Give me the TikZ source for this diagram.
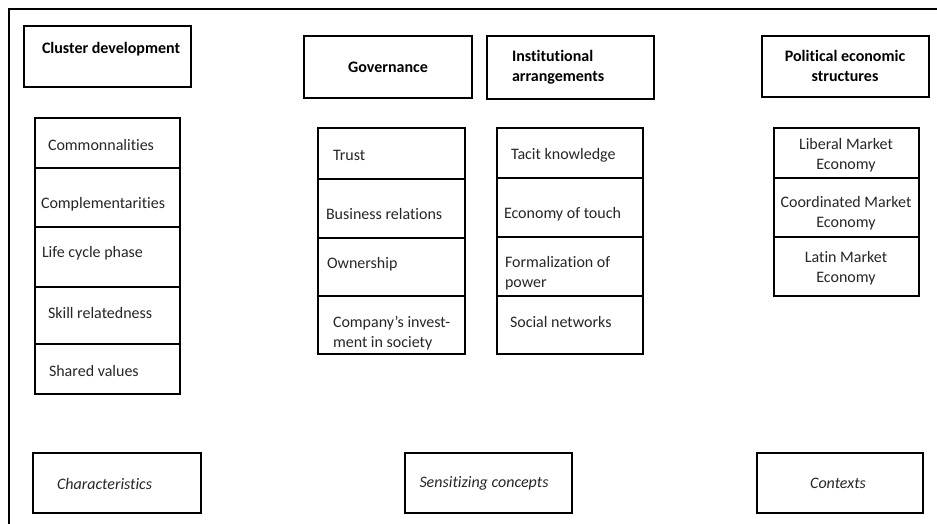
\documentclass[tikz,border=0pt]{standalone}
\usepackage{fontspec}
\setmainfont{Carlito}[Ligatures={NoCommon}]
\begin{document}
\begin{tikzpicture}[x=1pt,y=-1pt,
  every node/.style={inner sep=0pt, outer sep=0pt},
  box/.style={draw, line width=1.6pt, anchor=north west, rectangle},
  txt/.style={font=\fontsize{16}{20}\selectfont, text=black!85, anchor=west},
  head/.style={font=\fontsize{16}{20}\selectfont\bfseries, text=black},
  tag/.style={font=\fontsize{16}{20}\selectfont\itshape, text=black!85}]
\useasboundingbox (0,0) rectangle (937,524);

% outer frame (top and left edges)
\coordinate (frameTL) at (9,9);
\coordinate (frameTR) at (937,9);
\coordinate (frameBL) at (9,524);
\draw[line width=1.1pt] (frameTR) -- (frameTL) -- (frameBL);

% headings
\node[box, minimum width=167, minimum height=61] (hcd) at (24,26) {};
\node[head, anchor=west] (hcdt) at (42,49) {Cluster development};
\node[box, minimum width=168, minimum height=62] (hgov) at (304,36) {};
\node[head] (hgovt) at (388,67) {Governance};
\node[box, minimum width=167, minimum height=63] (hinst) at (487,36) {};
\node[head, anchor=west, align=left] (hinstt) at (512,67) {Institutional\\arrangements};
\node[box, minimum width=167, minimum height=61] (hpol) at (762,36) {};
\node[head, align=center] (hpolt) at (845,66) {Political economic\\structures};

% cluster development column
\node[box, minimum width=145, minimum height=50] (c1) at (35,118) {};
\node[box, minimum width=145, minimum height=59] (c2) at (35,168) {};
\node[box, minimum width=145, minimum height=60] (c3) at (35,227) {};
\node[box, minimum width=145, minimum height=57] (c4) at (35,287) {};
\node[box, minimum width=145, minimum height=50] (c5) at (35,344) {};
\node[txt] (c1t) at (48,145) {Commonnalities};
\node[txt] (c2t) at (41,204) {Complementarities};
\node[txt] (c3t) at (42,253) {Life cycle phase};
\node[txt] (c4t) at (48,313) {Skill relatedness};
\node[txt] (c5t) at (49,371) {Shared values};

% governance column
\node[box, minimum width=147, minimum height=51] (g1) at (318,128) {};
\node[box, minimum width=147, minimum height=59] (g2) at (318,179) {};
\node[box, minimum width=147, minimum height=58] (g3) at (318,238) {};
\node[box, minimum width=147, minimum height=58] (g4) at (318,296) {};
\node[txt] (g1t) at (333,155) {Trust};
\node[txt] (g2t) at (326,214) {Business relations};
\node[txt] (g3t) at (327,264) {Ownership};
\node[txt, align=left] (g4t) at (333,333) {Company’s invest-\\ment in society};

% institutional arrangements column
\node[box, minimum width=146, minimum height=50] (i1) at (497,128) {};
\node[box, minimum width=146, minimum height=59] (i2) at (497,178) {};
\node[box, minimum width=146, minimum height=59] (i3) at (497,237) {};
\node[box, minimum width=146, minimum height=58] (i4) at (497,296) {};
\node[txt] (i1t) at (511,155) {Tacit knowledge};
\node[txt] (i2t) at (504,214) {Economy of touch};
\node[txt, align=left] (i3t) at (505,273) {Formalization of\\power};
\node[txt] (i4t) at (510,322) {Social networks};

% political economic structures column
\node[box, minimum width=145, minimum height=50] (p1) at (774,128) {};
\node[box, minimum width=145, minimum height=59] (p2) at (774,178) {};
\node[box, minimum width=145, minimum height=59] (p3) at (774,237) {};
\node[txt, anchor=center, align=center] (p1t) at (846,155) {Liberal Market\\Economy};
\node[txt, anchor=center, align=center] (p2t) at (846,213) {Coordinated Market\\Economy};
\node[txt, anchor=center, align=center] (p3t) at (846,268) {Latin Market\\Economy};

% bottom labels
\node[box, minimum width=168, minimum height=60] (b1) at (33,453) {};
\node[tag, anchor=west] (b1t) at (57,484) {Characteristics};
\node[box, minimum width=167, minimum height=60] (b2) at (405,453) {};
\node[tag] (b2t) at (484,483) {Sensitizing concepts};
\node[box, minimum width=166, minimum height=60] (b3) at (757,453) {};
\node[tag] (b3t) at (838,483) {Contexts};
\end{tikzpicture}
\end{document}
